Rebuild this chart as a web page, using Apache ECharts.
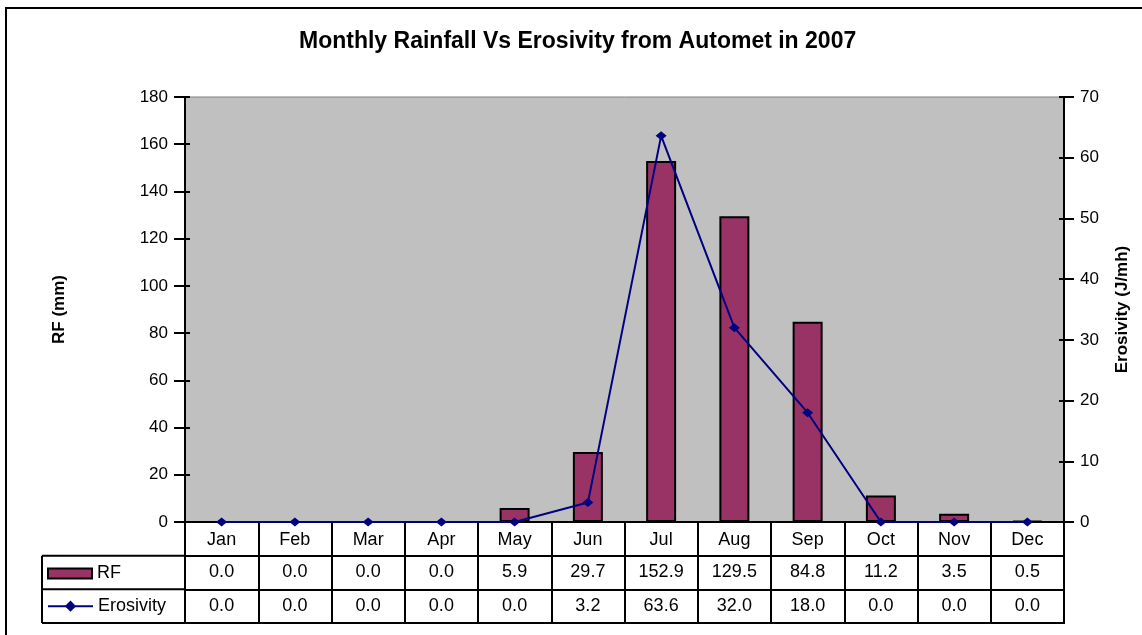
<!DOCTYPE html>
<html>
<head>
<meta charset="utf-8">
<script src="https://cdn.jsdelivr.net/npm/echarts@6/dist/echarts.min.js"></script>
<style>
html, body { margin: 0; padding: 0; background: #fff; }
#chart { width: 1142px; height: 635px; }
</style>
</head>
<body>
<div id="chart"></div>
<script>
// data
var months = ['Jan', 'Feb', 'Mar', 'Apr', 'May', 'Jun', 'Jul', 'Aug', 'Sep', 'Oct', 'Nov', 'Dec'];
var rfValues = [0.0, 0.0, 0.0, 0.0, 5.9, 29.7, 152.9, 129.5, 84.8, 11.2, 3.5, 0.5];
var erosivityValues = [0.0, 0.0, 0.0, 0.0, 0.0, 3.2, 63.6, 32.0, 18.0, 0.0, 0.0, 0.0];
var tableRows = ['', 'RF', 'Erosivity'];

// layout
var W = 1142, H = 635;
var plotLeft = 185, plotRight = 1064, plotTop = 97, plotBottom = 522;
var tableLeft = 42, tableBottom = 623;
var rowH = (tableBottom - plotBottom) / 3;
var font = 'Liberation Sans, Arial, sans-serif';

var rfTable = rfValues.map(function (v, i) { return [i, 1, v]; });
var erTable = erosivityValues.map(function (v, i) { return [i, 2, v]; });

var myChart = echarts.init(document.getElementById('chart'));

// excel style ticks cross the axis line: a second, bare axis draws the inner half
function innerTicks(max, interval, pos) {
  return {
    type: 'value', gridIndex: 0, min: 0, max: max, interval: interval, position: pos,
    axisLine: { show: false },
    axisTick: { show: true, inside: true, length: 5, lineStyle: { color: '#000', width: 2 } },
    axisLabel: { show: false },
    splitLine: { show: false }
  };
}

function tableSeries(name, data) {
  return {
    name: name, type: 'scatter', xAxisIndex: 1, yAxisIndex: 2,
    data: data, symbolSize: 1, silent: true,
    itemStyle: { color: 'rgba(0,0,0,0)', opacity: 1 },
    label: {
      show: true, position: 'inside', fontSize: 18, color: '#000', fontFamily: font,
      textBorderWidth: 0,
      formatter: function (p) { return p.value[2].toFixed(1); }
    }
  };
}

var option = {
  backgroundColor: '#fff',
  animation: false,
  textStyle: { fontFamily: font },
  title: {
    text: 'Monthly Rainfall Vs Erosivity from Automet in 2007',
    left: 299,
    top: 30,
    padding: 0,
    textStyle: { fontSize: 23, fontWeight: 'bold', color: '#000', fontFamily: font }
  },
  legend: [
    {
      data: [{ name: 'RF', icon: 'rect' }],
      left: 47,
      top: plotBottom + rowH * 1.5 - 8,
      padding: 0,
      itemWidth: 44,
      itemHeight: 10,
      selectedMode: false,
      textStyle: { fontSize: 18, color: '#000', fontFamily: font }
    },
    {
      data: ['Erosivity'],
      left: 47,
      top: plotBottom + rowH * 2.5 - 9,
      padding: 0,
      itemWidth: 45,
      itemHeight: 14,
      selectedMode: false,
      textStyle: { fontSize: 18, color: '#000', fontFamily: font }
    }
  ],
  grid: [
    {
      left: plotLeft, right: W - plotRight, top: plotTop, bottom: H - plotBottom,
      show: true, backgroundColor: '#C0C0C0', borderColor: '#808080', borderWidth: 1
    },
    {
      left: plotLeft, right: W - plotRight, top: plotBottom, bottom: H - tableBottom,
      show: true, backgroundColor: '#fff', borderColor: '#000', borderWidth: 2
    }
  ],
  xAxis: [
    {
      type: 'category', gridIndex: 0, data: months,
      axisLine: { lineStyle: { color: '#000', width: 2 } },
      axisTick: { show: false },
      axisLabel: { margin: 9, fontSize: 18, color: '#000', fontFamily: font },
      splitLine: { show: false }
    },
    {
      type: 'category', gridIndex: 1, data: months,
      axisLine: { show: false },
      axisTick: { show: false },
      axisLabel: { show: false },
      splitLine: { show: true, lineStyle: { color: '#000', width: 2 } }
    }
  ],
  yAxis: [
    {
      type: 'value', gridIndex: 0, min: 0, max: 180, interval: 20,
      name: 'RF (mm)', nameLocation: 'middle', nameGap: 117,
      nameTextStyle: { fontSize: 17, fontWeight: 'bold', color: '#000', fontFamily: font },
      axisLine: { show: true, lineStyle: { color: '#000', width: 2 } },
      axisTick: { show: true, length: 11, lineStyle: { color: '#000', width: 2 } },
      axisLabel: { margin: 17, fontSize: 17, color: '#000', fontFamily: font },
      splitLine: { show: false }
    },
    {
      type: 'value', gridIndex: 0, min: 0, max: 70, interval: 10, position: 'right',
      name: 'Erosivity (J/mh)', nameLocation: 'middle', nameGap: 50,
      nameTextStyle: { fontSize: 17, fontWeight: 'bold', color: '#000', fontFamily: font },
      axisLine: { show: true, lineStyle: { color: '#000', width: 2 } },
      axisTick: { show: true, length: 10, lineStyle: { color: '#000', width: 2 } },
      axisLabel: { margin: 16, fontSize: 17, color: '#000', fontFamily: font },
      splitLine: { show: false }
    },
    {
      type: 'category', gridIndex: 1, data: tableRows, inverse: true,
      axisLine: { show: false },
      axisTick: { show: false },
      axisLabel: { show: false },
      splitLine: { show: true, lineStyle: { color: '#000', width: 2 } }
    },
    innerTicks(180, 20, 'left'),
    innerTicks(70, 10, 'right')
  ],
  series: [
    {
      name: 'RF', type: 'bar', xAxisIndex: 0, yAxisIndex: 0,
      data: rfValues, barWidth: 30,
      itemStyle: { color: '#993366', borderColor: '#000', borderWidth: 2 }
    },
    {
      name: 'Erosivity', type: 'line', xAxisIndex: 0, yAxisIndex: 1,
      data: erosivityValues,
      symbol: 'diamond', symbolSize: [11, 9], showSymbol: true,
      lineStyle: { color: '#000080', width: 2 },
      itemStyle: { color: '#000080' }
    },
    tableSeries('RF table', rfTable),
    tableSeries('Erosivity table', erTable)
  ],
  graphic: [
    // outer chart border
    { type: 'rect', silent: true, shape: { x: 6, y: 8, width: W, height: H },
      style: { fill: 'none', stroke: '#000', lineWidth: 2 } },
    // row header cells of the data table
    { type: 'line', silent: true, shape: { x1: tableLeft, y1: plotBottom + rowH, x2: plotLeft, y2: plotBottom + rowH },
      style: { stroke: '#000', lineWidth: 2 } },
    { type: 'line', silent: true, shape: { x1: tableLeft, y1: plotBottom + rowH * 2, x2: plotLeft, y2: plotBottom + rowH * 2 },
      style: { stroke: '#000', lineWidth: 2 } },
    { type: 'line', silent: true, shape: { x1: tableLeft, y1: tableBottom, x2: plotLeft, y2: tableBottom },
      style: { stroke: '#000', lineWidth: 2 } },
    { type: 'line', silent: true, shape: { x1: tableLeft, y1: plotBottom + rowH, x2: tableLeft, y2: tableBottom },
      style: { stroke: '#000', lineWidth: 2 } }
  ]
};

myChart.setOption(option);
</script>
</body>
</html>
